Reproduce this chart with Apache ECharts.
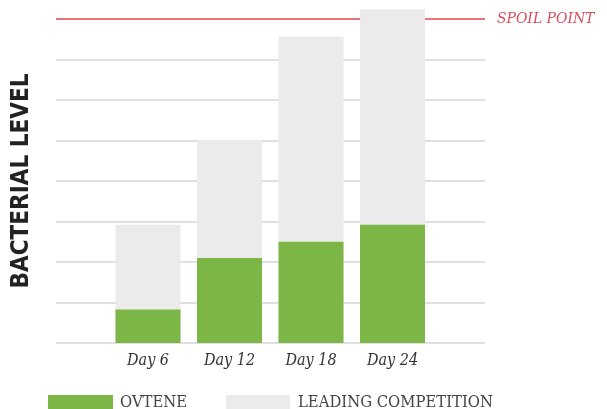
<!DOCTYPE html>
<html>
<head>
<meta charset="utf-8">
<script src="https://cdn.jsdelivr.net/npm/echarts@6/dist/echarts.min.js"></script>
<style>
html,body{margin:0;padding:0;background:#fff;}
#chart{width:607px;height:409px;}
</style>
</head>
<body>
<div id="chart"></div>
<script>
var categories = ['Day 6', 'Day 12', 'Day 18', 'Day 24'];
var ovteneValues = [0.83, 2.1, 2.5, 2.92];
var competitionValues = [2.92, 5.02, 7.57, 8.24];
var spoilLevel = 8;
var spoilLabel = 'SPOIL POINT';
var yTitle = 'BACTERIAL LEVEL';
var seriesNames = ['OVTENE', 'LEADING COMPETITION'];

var green = '#7cb646';
var gray = '#ebebeb';
var gridColor = '#d6d6d6';
var red = '#e5434f';

var splitColors = [];
for (var i = 0; i <= spoilLevel; i++) splitColors.push(i === spoilLevel ? red : gridColor);

var chart = echarts.init(document.getElementById('chart'), null, {renderer: 'canvas'});
chart.setOption({
  animation: false,
  backgroundColor: '#fff',
  grid: [
    {left: 56, right: 122, top: 19, bottom: 66, containLabel: false, outerBoundsMode: 'none'},
    {left: 107.25, width: 326, top: 2.8, bottom: 66, containLabel: false, outerBoundsMode: 'none'}
  ],
  xAxis: [
    {gridIndex: 0, type: 'value', min: 0, max: 1, show: false},
    {gridIndex: 1, type: 'category', data: categories,
     axisLine: {show: false}, axisTick: {show: false},
     axisLabel: {margin: 10, color: '#333', fontFamily: 'DejaVu Serif Condensed', fontStyle: 'italic', fontSize: 16}}
  ],
  yAxis: [
    {gridIndex: 0, type: 'value', min: 0, max: spoilLevel, interval: 1, position: 'right',
     axisLine: {show: false}, axisTick: {show: false},
     splitLine: {show: true, lineStyle: {color: splitColors, width: 1.5}},
     axisLabel: {show: true, margin: 12, color: '#d94c5a', fontFamily: 'DejaVu Serif Condensed', fontStyle: 'italic', fontSize: 15.5,
       formatter: function (v) { return v === spoilLevel ? spoilLabel : ''; }}},
    {gridIndex: 1, type: 'value', min: 0, max: 8.4, show: false}
  ],
  graphic: [{
    type: 'text', x: 22, y: 181, rotation: Math.PI / 2,
    style: {text: yTitle, fill: '#222', align: 'center', verticalAlign: 'middle',
            font: 'bold 24px "DejaVu Sans Condensed"'}
  }],
  legend: [
    {data: [seriesNames[0]], left: 48, top: 394, padding: 0, itemWidth: 65, itemHeight: 15, itemGap: 0, icon: 'rect',
     textStyle: {color: '#444', fontFamily: 'DejaVu Serif Condensed', fontSize: 16.5, padding: [0, 0, 0, 2]}},
    {data: [seriesNames[1]], left: 226, top: 394, padding: 0, itemWidth: 64, itemHeight: 15, icon: 'rect',
     textStyle: {color: '#444', fontFamily: 'DejaVu Serif Condensed', fontSize: 16.5, padding: [0, 0, 0, 3]}}
  ],
  series: [
    {name: seriesNames[1], type: 'bar', xAxisIndex: 1, yAxisIndex: 1, data: competitionValues,
     barWidth: 65, itemStyle: {color: gray}, clip: false},
    {name: seriesNames[0], type: 'bar', xAxisIndex: 1, yAxisIndex: 1, data: ovteneValues,
     barWidth: 65, barGap: '-100%', itemStyle: {color: green}, clip: false}
  ]
});
</script>
</body>
</html>
